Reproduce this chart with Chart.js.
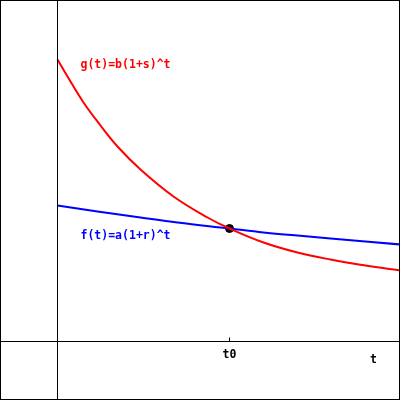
<!DOCTYPE html>
<html>
<head>
<meta charset="utf-8">
<script src="https://cdn.jsdelivr.net/npm/chart.js@4.4.1/dist/chart.umd.min.js"></script>
<style>
  body { margin: 0; background: #fff; }
  #wrap { width: 400px; height: 400px; box-sizing: border-box; border: 1px solid #000; }
  canvas { display: block; }
</style>
</head>
<body>
<div id="wrap"><canvas id="expchart" width="398" height="398"></canvas></div>
<script>
var gT = [0, 10, 26, 43, 60, 83, 116, 150, 172, 206, 240, 273, 308, 343];
var gVal = [282, 265, 239, 216, 195, 172, 145, 124, 113, 99, 89, 82, 76, 71];

var fT = [0, 40, 83, 120, 172, 206, 240, 273, 343];
var fVal = [136, 130, 124, 119, 113, 109, 106, 103, 97];

var t0 = 172;
var t0Val = 113;

var labels = [
  { text: 'g(t)=b(1+s)^t', t: 23, v: 276, color: '#ff0000', align: 'left' },
  { text: 'f(t)=a(1+r)^t', t: 23, v: 105, color: '#0000ff', align: 'left' },
  { text: 't0', t: t0, v: -14, color: '#000', align: 'center' },
  { text: 't', t: 316, v: -19, color: '#000', align: 'center' }
];

function pts(xs, ys) {
  return xs.map(function (x, i) { return { x: x, y: ys[i] }; });
}

var textPlugin = {
  id: 'textLabels',
  afterDatasetsDraw: function (chart) {
    var c = chart.ctx;
    var xs = chart.scales.x, ys = chart.scales.y;
    c.save();
    c.font = 'bold 11.5px "DejaVu Sans Mono", monospace';
    c.textBaseline = 'middle';
    labels.forEach(function (l) {
      c.fillStyle = l.color;
      c.textAlign = l.align;
      c.fillText(l.text, xs.getPixelForValue(l.t), ys.getPixelForValue(l.v));
    });
    c.restore();
  }
};

var ctx = document.getElementById('expchart');
var chart = new Chart(ctx, {
  type: 'line',
  data: {
    datasets: [
      {
        // axes
        data: [{ x: 0, y: -60 }, { x: 0, y: 345 }],
        borderColor: '#000', borderWidth: 1, pointRadius: 0
      },
      {
        data: [{ x: -60, y: 0 }, { x: 345, y: 0 }],
        borderColor: '#000', borderWidth: 1, pointRadius: 0
      },
      {
        // t0 tick
        data: [{ x: t0, y: 0 }, { x: t0, y: 4 }],
        borderColor: '#000', borderWidth: 1, pointRadius: 0
      },
      {
        data: pts(gT, gVal),
        borderColor: '#ff0000', borderWidth: 2, pointRadius: 0,
        tension: 0.4
      },
      {
        data: pts(fT, fVal),
        borderColor: '#0000ff', borderWidth: 2, pointRadius: 0,
        tension: 0.4
      },
      {
        data: [{ x: t0, y: t0Val }],
        showLine: false,
        pointRadius: 4, pointBackgroundColor: '#000', pointBorderColor: '#000'
      }
    ]
  },
  options: {
    responsive: false,
    animation: false,
    events: [],
    layout: { padding: 0, autoPadding: false },
    plugins: { legend: { display: false }, tooltip: { enabled: false } },
    scales: {
      x: { type: 'linear', display: false, min: -56.5, max: 341.5 },
      y: { type: 'linear', display: false, min: -57.5, max: 340.5 }
    }
  },
  plugins: [textPlugin]
});
</script>
</body>
</html>
